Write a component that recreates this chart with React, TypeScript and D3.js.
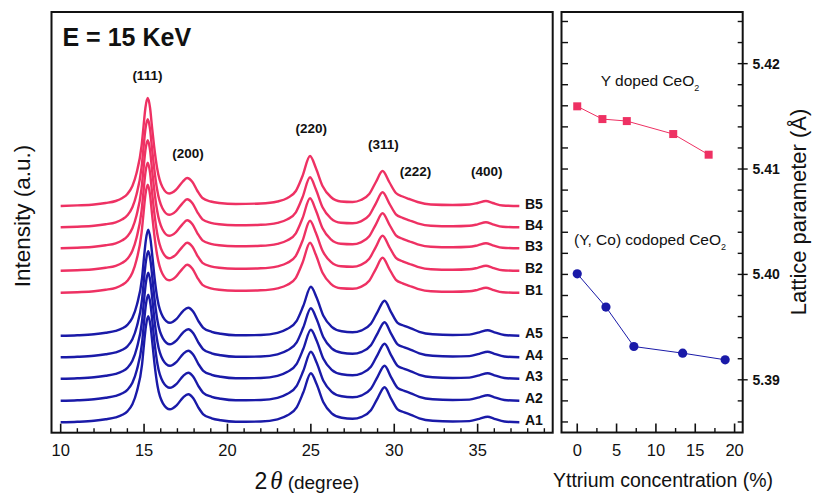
import React from 'react';
import * as d3 from 'd3';

const W = 813;
const H = 494;

// --- data ---
// XRD traces: [2theta, intensity above baseline (a.u.)]
const profileB: [number, number][] = [
  [10, 0], [11, 0.6], [12, 1.5], [12.7, 3], [13.3, 5], [13.7, 8], [14.0, 12], [14.3, 20],
  [14.55, 33], [14.85, 60], [14.97, 80], [15.08, 98], [15.22, 108], [15.36, 98], [15.47, 80],
  [15.6, 60], [15.78, 38], [16.1, 19], [16.5, 12.5], [16.9, 16], [17.3, 24], [17.58, 28],
  [17.9, 24], [18.2, 15], [18.5, 8], [19.0, 4.5], [19.5, 3], [20.5, 2], [22.0, 2.5],
  [23.0, 4.5], [23.6, 8], [24.1, 15], [24.5, 30], [24.95, 50], [25.3, 38], [25.7, 20],
  [26.2, 9], [26.8, 4.5], [27.5, 4], [28.0, 6], [28.5, 12], [28.9, 24], [29.3, 35],
  [29.7, 24], [30.1, 13], [30.5, 9.5], [30.9, 7], [31.4, 4], [32.2, 1.5], [33.5, 1],
  [34.5, 1.5], [35.0, 3], [35.5, 5], [35.9, 3], [36.5, 0.5], [37.5, 0],
];
const profileA: [number, number][] = [
  [10, 0], [11, 0.5], [12, 1.5], [12.7, 3], [13.3, 5], [13.7, 7.5], [14.0, 11], [14.3, 18],
  [14.57, 31], [14.88, 58], [15.0, 79], [15.11, 96], [15.25, 106], [15.39, 96], [15.5, 79],
  [15.63, 58], [15.81, 36], [16.13, 19], [16.55, 13], [16.95, 17], [17.35, 25], [17.65, 28],
  [17.95, 24], [18.25, 15], [18.55, 8], [19.05, 4], [19.6, 2], [20.5, 0.5], [22.0, 0.8],
  [23.0, 3], [23.6, 7], [24.15, 15], [24.55, 30], [25.0, 49], [25.35, 38], [25.75, 20],
  [26.25, 9], [26.85, 4.5], [27.5, 3.5], [28.05, 5.5], [28.6, 12], [29.0, 24], [29.42, 35],
  [29.8, 24], [30.2, 13], [30.6, 10], [31.0, 7.5], [31.5, 4], [32.3, 1.5], [33.5, 0.8],
  [34.5, 1.2], [35.1, 3.5], [35.6, 5.5], [36.0, 3.5], [36.6, 0.8], [37.5, 0],
];

const sampleNames = ['A1', 'A2', 'A3', 'A4', 'A5', 'B1', 'B2', 'B3', 'B4', 'B5'];
const sampleOffsets = [0, 21.5, 43.5, 65, 86.5, 129.5, 151.5, 174, 195, 216.3];

const hklNames = ['(111)', '(200)', '(220)', '(311)', '(222)', '(400)'];
const hklAngles = [15.2, 17.64, 25.02, 29.35, 31.27, 35.55];
const hklLevels = [342, 264.5, 289.8, 273, 246.5, 246.5];

const yDopedConc = [0, 3.2, 6.3, 12.2, 16.7];
const yDopedLattice = [5.41595, 5.41474, 5.41455, 5.41332, 5.41136];
const coDopedConc = [0, 3.65, 7.2, 13.4, 18.8];
const coDopedLattice = [5.40006, 5.3969, 5.39316, 5.39253, 5.3919];

const xTicksLeft = [10, 15, 20, 25, 30, 35];
const xTicksRight = [0, 5, 10, 15, 20];
const yTicksRight = [5.39, 5.4, 5.41, 5.42];

const PINK = '#EE3163';
const BLUE = '#1A1AA8';
const FONT = 'Liberation Sans, Arial, sans-serif';

// --- panel geometry ---
const L = { x0: 51.5, x1: 552.7, y0: 12, y1: 432.7 };
const R = { x0: 561.5, x1: 742.7, y0: 12, y1: 432.5 };

const xL = d3.scaleLinear().domain([9.45, 39.5]).range([L.x0, L.x1]);
const yL = d3.scaleLinear().domain([-10.4, 410.3]).range([L.y1, L.y0]);
const xR = d3.scaleLinear().domain([-2, 21.03]).range([R.x0, R.x1]);
const yR = d3.scaleLinear().domain([5.385, 5.4249]).range([R.y1, R.y0]);

const trace = (profile: [number, number][], off: number) =>
  d3.line<[number, number]>()
    .x(d => xL(d[0]))
    .y(d => yL(d[1] + off))
    .curve(d3.curveMonotoneX)(profile) || '';

const App = () => {
  const minorL = d3.range(10, 40, 1).filter(v => v % 5 !== 0);
  const minorRx = d3.range(0, 9).map(i => i * 2.5).filter(v => v % 5 !== 0 && v <= 21);
  const ticksRy = d3.range(0, 20).map(i => 5.386 + i * 0.002);

  const yLine = d3.line<number>().x((d, i) => xR(yDopedConc[i])).y(d => yR(d));
  const coLine = d3.line<number>().x((d, i) => xR(coDopedConc[i])).y(d => yR(d));

  return (
    <svg width={W} height={H} style={{ position: 'absolute', left: 0, top: 0, background: '#fff' }}
      fontFamily={FONT}>
      <rect x={0} y={0} width={W} height={H} fill="#fff" />

      {/* ---- left panel: XRD traces ---- */}
      {sampleNames.map((name, i) => (
        <g key={name}>
          <path d={trace(name[0] === 'A' ? profileA : profileB, sampleOffsets[i])}
            fill="none" stroke={name[0] === 'A' ? BLUE : PINK} strokeWidth={2.4}
            strokeLinejoin="round" />
          <text x={525} y={yL(sampleOffsets[i]) + 2.5} fontSize={14} fontWeight="bold" fill="#111">{name}</text>
        </g>
      ))}

      {hklNames.map((h, i) => (
        <text key={h} x={xL(hklAngles[i])} y={yL(hklLevels[i])} fontSize={13.5} fontWeight="bold"
          textAnchor="middle" fill="#111">{h}</text>
      ))}

      <text x={62.5} y={45.5} fontSize={25} fontWeight="bold" fill="#111">E = 15 KeV</text>

      {xTicksLeft.map(t => (
        <g key={t}>
          <line x1={xL(t)} x2={xL(t)} y1={L.y1} y2={L.y1 - 9} stroke="#111" strokeWidth={1.6} />
          <text x={xL(t)} y={456} fontSize={16.5} textAnchor="middle" fill="#111">{t}</text>
        </g>
      ))}
      {minorL.map(t => (
        <line key={t} x1={xL(t)} x2={xL(t)} y1={L.y1} y2={L.y1 - 4.5} stroke="#111" strokeWidth={1.4} />
      ))}
      <rect x={L.x0} y={L.y0} width={L.x1 - L.x0} height={L.y1 - L.y0} fill="none" stroke="#111" strokeWidth={2} />

      <text transform={`translate(30,216) rotate(-90)`} fontSize={22.5} textAnchor="middle" fill="#111">Intensity (a.u.)</text>
      <text x={307} y={489} textAnchor="middle" fill="#111">
        <tspan fontSize={23}>2</tspan>
        <tspan fontSize={25} fontStyle="italic" fontFamily="Liberation Serif, serif" dx={3}>θ</tspan>
        <tspan fontSize={19} dx={5}>(degree)</tspan>
      </text>

      {/* ---- right panel: lattice parameter ---- */}
      <path d={yLine(yDopedLattice) || ''} fill="none" stroke={PINK} strokeWidth={1} />
      <path d={coLine(coDopedLattice) || ''} fill="none" stroke={BLUE} strokeWidth={1} />
      {yDopedLattice.map((v, i) => (
        <rect key={i} x={xR(yDopedConc[i]) - 4} y={yR(v) - 4} width={8} height={8} fill={PINK} />
      ))}
      {coDopedLattice.map((v, i) => (
        <circle key={i} cx={xR(coDopedConc[i])} cy={yR(v)} r={4.6} fill={BLUE} />
      ))}

      <text x={650} y={86} fontSize={15.5} textAnchor="middle" fill="#111">
        Y doped CeO<tspan fontSize={9} dy={5}>2</tspan>
      </text>
      <text x={650} y={245} fontSize={15.5} textAnchor="middle" fill="#111">
        (Y, Co) codoped CeO<tspan fontSize={9} dy={5}>2</tspan>
      </text>

      {ticksRy.map((t, i) => {
        const major = yTicksRight.some(m => Math.abs(m - t) < 1e-6);
        return (
          <g key={i}>
            <line x1={R.x0} x2={R.x0 + 6.5} y1={yR(t)} y2={yR(t)} stroke="#111" strokeWidth={1.4} />
            <line x1={R.x1 - 5} x2={major ? R.x1 + 5 : R.x1} y1={yR(t)} y2={yR(t)} stroke="#111" strokeWidth={1.4} />
          </g>
        );
      })}
      {yTicksRight.map(t => (
        <text key={t} x={752.5} y={yR(t) + 5} fontSize={14} fontWeight="bold" fill="#111">{t.toFixed(2)}</text>
      ))}
      {xTicksRight.map(t => (
        <g key={t}>
          <line x1={xR(t)} x2={xR(t)} y1={R.y1} y2={R.y1 - 9} stroke="#111" strokeWidth={1.6} />
          <text x={xR(t)} y={456} fontSize={16.5} textAnchor="middle" fill="#111">{t}</text>
        </g>
      ))}
      {minorRx.map(t => (
        <line key={t} x1={xR(t)} x2={xR(t)} y1={R.y1} y2={R.y1 - 4.5} stroke="#111" strokeWidth={1.4} />
      ))}
      <rect x={R.x0} y={R.y0} width={R.x1 - R.x0} height={R.y1 - R.y0} fill="none" stroke="#111" strokeWidth={2} />

      <text x={663} y={487} fontSize={19.5} textAnchor="middle" fill="#111">Yttrium concentration (%)</text>
      <text transform={`translate(806,212) rotate(-90)`} fontSize={22} textAnchor="middle" fill="#111">Lattice parameter (Å)</text>
    </svg>
  );
};

export default App;
